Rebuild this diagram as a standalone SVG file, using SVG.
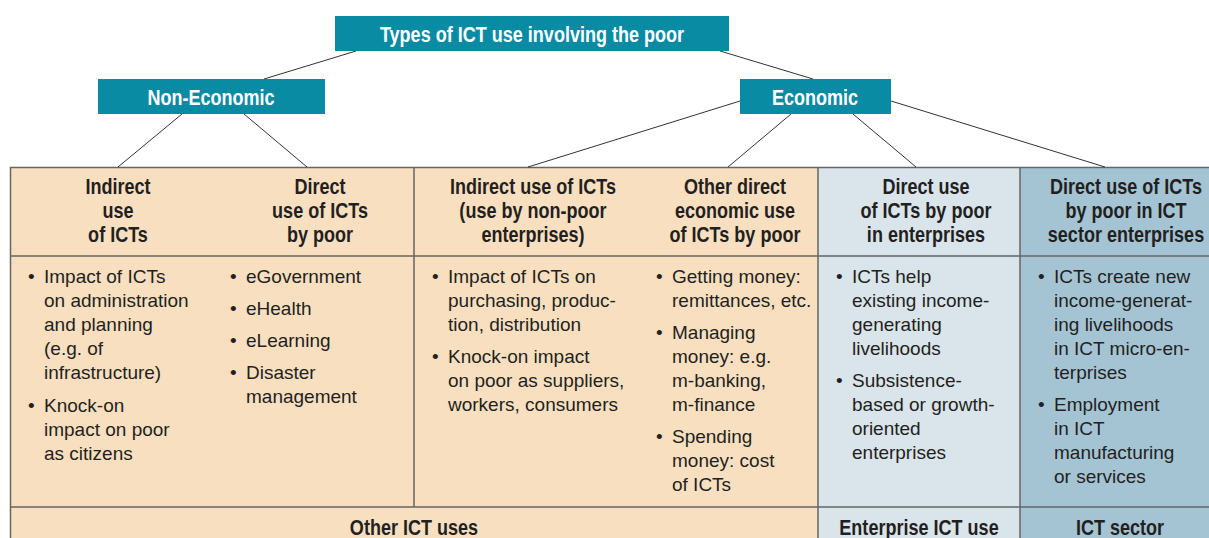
<svg xmlns="http://www.w3.org/2000/svg" width="1209" height="538" viewBox="0 0 1209 538">
<style>
.box{fill:#0a8ba4}
.boxt{font-family:"Liberation Sans",Arial,sans-serif;font-weight:bold;font-size:22px;fill:#ffffff;text-anchor:middle}
.hd{font-family:"Liberation Sans",Arial,sans-serif;font-weight:bold;font-size:22px;fill:#231f20;text-anchor:middle}
.bd{font-family:"Liberation Sans",Arial,sans-serif;font-size:19px;fill:#231f20}
.peach{fill:#f8dfc0}
.lb{fill:#d9e4eb}
.db{fill:#a4c4d4}
.bl{stroke:#666666;stroke-width:1.5;fill:none}
.cn{stroke:#333333;stroke-width:1;fill:none}
</style>

<g id="table-bg">
<rect class="peach" x="10" y="167" width="808" height="371"/>
<rect class="lb" x="818" y="167" width="202" height="371"/>
<rect class="db" x="1020" y="167" width="189" height="371"/>
<path class="bl" d="M10.5,538 V167.5 H1209 M10.5,256 H1209 M10.5,507 H1209 M414,167.5 V507 M818,167.5 V538 M1020,167.5 V538"/>
</g>

<g id="connectors">
<line class="cn" x1="356" y1="51" x2="264" y2="79"/>
<line class="cn" x1="720" y1="51" x2="813" y2="79"/>
<line class="cn" x1="182" y1="114" x2="118" y2="167"/>
<line class="cn" x1="244" y1="114" x2="307" y2="167"/>
<line class="cn" x1="740" y1="101" x2="528" y2="167"/>
<line class="cn" x1="791" y1="114" x2="728" y2="167"/>
<line class="cn" x1="853" y1="114" x2="916" y2="167"/>
<line class="cn" x1="891" y1="101" x2="1105" y2="167"/>
</g>

<g id="root">
<rect class="box" x="335" y="16" width="394" height="35"/>
<text class="boxt" transform="translate(532,42) scale(0.82,1)">Types of ICT use involving the poor</text>
</g>
<g id="non-economic">
<rect class="box" x="98" y="79" width="227" height="35"/>
<text class="boxt" transform="translate(211,105) scale(0.82,1)">Non-Economic</text>
</g>
<g id="economic">
<rect class="box" x="740" y="79" width="151" height="35"/>
<text class="boxt" transform="translate(815,105) scale(0.82,1)">Economic</text>
</g>

<g id="col-indirect">
<text class="hd" transform="translate(118,0) scale(0.82,1)"><tspan x="0" y="194">Indirect</tspan><tspan x="0" y="218">use</tspan><tspan x="0" y="242">of ICTs</tspan></text>
<text class="bd"><tspan x="28" y="283">•</tspan><tspan x="28" y="412">•</tspan></text>
<text class="bd"><tspan x="44" y="283">Impact of ICTs</tspan><tspan x="44" y="307">on administration</tspan><tspan x="44" y="331">and planning</tspan><tspan x="44" y="355">(e.g. of</tspan><tspan x="44" y="379">infrastructure)</tspan><tspan x="44" y="412">Knock-on</tspan><tspan x="44" y="436">impact on poor</tspan><tspan x="44" y="460">as citizens</tspan></text>
</g>

<g id="col-direct">
<text class="hd" transform="translate(320,0) scale(0.82,1)"><tspan x="0" y="194">Direct</tspan><tspan x="0" y="218">use of ICTs</tspan><tspan x="0" y="242">by poor</tspan></text>
<text class="bd"><tspan x="230" y="283">•</tspan><tspan x="230" y="315">•</tspan><tspan x="230" y="347">•</tspan><tspan x="230" y="379">•</tspan></text>
<text class="bd"><tspan x="246" y="283">eGovernment</tspan><tspan x="246" y="315">eHealth</tspan><tspan x="246" y="347">eLearning</tspan><tspan x="246" y="379">Disaster</tspan><tspan x="246" y="403">management</tspan></text>
</g>

<g id="col-indirect-econ">
<text class="hd" transform="translate(533,0) scale(0.82,1)"><tspan x="0" y="194">Indirect use of ICTs</tspan><tspan x="0" y="218">(use by non-poor</tspan><tspan x="0" y="242">enterprises)</tspan></text>
<text class="bd"><tspan x="432" y="283">•</tspan><tspan x="432" y="363">•</tspan></text>
<text class="bd"><tspan x="448" y="283">Impact of ICTs on</tspan><tspan x="448" y="307">purchasing, produc-</tspan><tspan x="448" y="331">tion, distribution</tspan><tspan x="448" y="363">Knock-on impact</tspan><tspan x="448" y="387">on poor as suppliers,</tspan><tspan x="448" y="411">workers, consumers</tspan></text>
</g>

<g id="col-other-direct">
<text class="hd" transform="translate(735,0) scale(0.82,1)"><tspan x="0" y="194">Other direct</tspan><tspan x="0" y="218">economic use</tspan><tspan x="0" y="242">of ICTs by poor</tspan></text>
<text class="bd"><tspan x="656" y="283">•</tspan><tspan x="656" y="339">•</tspan><tspan x="656" y="443">•</tspan></text>
<text class="bd"><tspan x="672" y="283">Getting money:</tspan><tspan x="672" y="307">remittances, etc.</tspan><tspan x="672" y="339">Managing</tspan><tspan x="672" y="363">money: e.g.</tspan><tspan x="672" y="387">m-banking,</tspan><tspan x="672" y="411">m-finance</tspan><tspan x="672" y="443">Spending</tspan><tspan x="672" y="467">money: cost</tspan><tspan x="672" y="491">of ICTs</tspan></text>
</g>

<g id="col-enterprise">
<text class="hd" transform="translate(926,0) scale(0.82,1)"><tspan x="0" y="194">Direct use</tspan><tspan x="0" y="218">of ICTs by poor</tspan><tspan x="0" y="242">in enterprises</tspan></text>
<text class="bd"><tspan x="836" y="283">•</tspan><tspan x="836" y="387">•</tspan></text>
<text class="bd"><tspan x="852" y="283">ICTs help</tspan><tspan x="852" y="307">existing income-</tspan><tspan x="852" y="331">generating</tspan><tspan x="852" y="355">livelihoods</tspan><tspan x="852" y="387">Subsistence-</tspan><tspan x="852" y="411">based or growth-</tspan><tspan x="852" y="435">oriented</tspan><tspan x="852" y="459">enterprises</tspan></text>
</g>

<g id="col-ict-sector">
<text class="hd" transform="translate(1126,0) scale(0.82,1)"><tspan x="0" y="194">Direct use of ICTs</tspan><tspan x="0" y="218">by poor in ICT</tspan><tspan x="0" y="242">sector enterprises</tspan></text>
<text class="bd"><tspan x="1038" y="283">•</tspan><tspan x="1038" y="411">•</tspan></text>
<text class="bd"><tspan x="1054" y="283">ICTs create new</tspan><tspan x="1054" y="307">income-generat-</tspan><tspan x="1054" y="331">ing livelihoods</tspan><tspan x="1054" y="355">in ICT micro-en-</tspan><tspan x="1054" y="379">terprises</tspan><tspan x="1054" y="411">Employment</tspan><tspan x="1054" y="435">in ICT</tspan><tspan x="1054" y="459">manufacturing</tspan><tspan x="1054" y="483">or services</tspan></text>
</g>

<g id="footer-other">
<text class="hd" transform="translate(414,535) scale(0.82,1)">Other ICT uses</text>
</g>
<g id="footer-enterprise">
<text class="hd" transform="translate(919,535) scale(0.82,1)">Enterprise ICT use</text>
</g>
<g id="footer-sector">
<text class="hd" transform="translate(1120,535) scale(0.82,1)">ICT sector</text>
</g>
</svg>
